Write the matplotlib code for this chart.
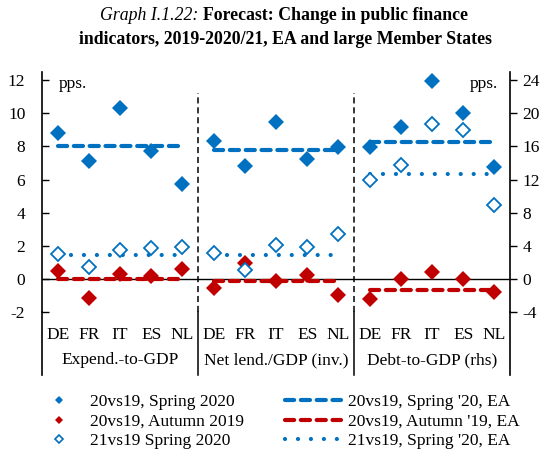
import matplotlib
matplotlib.use("Agg")
import matplotlib.pyplot as plt
from matplotlib.lines import Line2D
from matplotlib.transforms import blended_transform_factory
import numpy as np

plt.rcParams['font.family'] = ['Liberation Serif', 'DejaVu Serif']

countries = ["DE", "FR", "IT", "ES", "NL"]
groups = ["Expend.-to-GDP", "Net lend./GDP (inv.)", "Debt-to-GDP (rhs)"]

# group 1 & 2 on left axis, group 3 on right axis
spring20_20 = [[8.8, 7.15, 10.3, 7.75, 5.75],
               [8.35, 6.85, 9.5, 7.25, 7.95],
               [15.9, 18.4, 23.9, 20.1, 13.5]]
autumn19_20 = [[0.45, -1.15, 0.3, 0.2, 0.6],
               [-0.55, 0.95, -0.1, 0.25, -0.95],
               [-2.4, 0.0, 0.8, 0.0, -1.6]]
spring20_21 = [[1.5, 0.7, 1.75, 1.85, 1.9],
               [1.55, 0.55, 2.05, 1.95, 2.7],
               [12.0, 13.8, 18.7, 18.0, 8.9]]
ea_spring20_20 = [8.0, 7.8, 16.6]
ea_autumn19_20 = [0.0, -0.1, -1.4]
ea_spring20_21 = [1.45, 1.45, 12.7]
left_ticks = [-2, 0, 2, 4, 6, 8, 10, 12]
right_ticks = [-4, 0, 4, 8, 12, 16, 20, 24]

blue = "#0070C0"
red = "#C00000"

fig = plt.figure(figsize=(5.4, 4.54), dpi=100)
W, H = 540, 454
ax_l, ax_r, ax_t, ax_b = 42, 510, 72, 312
ax = fig.add_axes([ax_l / W, 1 - ax_b / H, (ax_r - ax_l) / W, (ax_b - ax_t) / H])
ax2 = ax.twinx()
ax.set_xlim(-0.5, 14.5)
ax.set_ylim(-2, 12.5)
ax2.set_ylim(-4, 25)

ms = 8.5
dash = (2.2, 1.6)
dot = (0.01, 3.1)
for g in range(3):
    a = ax if g < 2 else ax2
    xs = np.arange(5) + 5 * g
    a.plot(xs, spring20_20[g], 'D', color=blue, ms=ms, mew=0, zorder=5)
    a.plot(xs, autumn19_20[g], 'D', color=red, ms=ms, mew=0, zorder=5)
    a.plot(xs, spring20_21[g], 'D', mfc='white', mec=blue, ms=ms - 1, mew=1.3, zorder=6)
    xl = [xs[0], xs[-1]]
    a.plot(xl, [ea_spring20_20[g]] * 2, color=blue, lw=3, dashes=dash,
           dash_capstyle='round', zorder=4)
    a.plot(xl, [ea_autumn19_20[g]] * 2, color=red, lw=3, dashes=dash,
           dash_capstyle='round', zorder=4)
    a.plot(xl, [ea_spring20_21[g]] * 2, color=blue, lw=3, dashes=dot,
           dash_capstyle='round', zorder=4)

ax.axhline(0, color='black', lw=1, zorder=3)

for s in ['top', 'bottom', 'right']:
    ax.spines[s].set_visible(False)
for s in ['top', 'bottom', 'left']:
    ax2.spines[s].set_visible(False)
ax.spines['left'].set_linewidth(1.2)
ax2.spines['right'].set_linewidth(1.2)

ax.set_yticks(left_ticks)
ax.set_yticklabels([str(v) for v in left_ticks])
ax2.set_yticks(right_ticks)
ax2.set_yticklabels([str(v) for v in right_ticks])
ax.tick_params(axis='y', direction='in', length=5, width=1, pad=12, labelsize=12.5)
ax2.tick_params(axis='y', direction='out', length=5, width=1, pad=4, labelsize=12.5)

ax.set_xticks(range(15))
ax.set_xticklabels(countries * 3, fontsize=12.5)
ax.tick_params(axis='x', length=0, pad=11)

trans = blended_transform_factory(ax.transData, ax.transAxes)
for g, name in enumerate(groups):
    ax.text(2 + 5 * g, -0.2, name, transform=trans, ha='center', va='center', fontsize=12.5)

ext = -(375 - 312) / (312 - 72)
top_sep = (312 - 93) / (312 - 72)
for xv in [4.5, 9.5]:
    ax.add_line(Line2D([xv, xv], [0, top_sep], transform=trans, color='black',
                       lw=1.1, dashes=(4, 2.5)))
    ax.add_line(Line2D([xv, xv], [ext, 0], transform=trans, color='black',
                       lw=1.1, clip_on=False))
for xv in [-0.5, 14.5]:
    ax.add_line(Line2D([xv, xv], [ext, 0], transform=trans, color='black',
                       lw=1.2, clip_on=False))

ax.text(0.035, 0.985, "pps.", transform=ax.transAxes, ha='left', va='top', fontsize=12.5)
ax2.text(0.975, 0.985, "pps.", transform=ax.transAxes, ha='right', va='top', fontsize=12.5)

# title
fig.canvas.draw()
r = fig.canvas.get_renderer()
tfs = 12.8
t1a = fig.text(0, 1 - 16 / H, "Graph I.1.22: ", style='italic', fontsize=tfs, va='center')
t1b = fig.text(0, 1 - 16 / H, "Forecast: Change in public finance", weight='bold',
               fontsize=tfs, va='center')
wa = t1a.get_window_extent(r).width
wb = t1b.get_window_extent(r).width
x0 = 284 - (wa + wb) / 2
t1a.set_x(x0 / W)
t1b.set_x((x0 + wa) / W)
fig.text(285 / W, 1 - 40 / H, "indicators, 2019-2020/21, EA and large Member States",
         weight='bold', fontsize=tfs, ha='center', va='center')

# legend
h1 = [Line2D([], [], ls='none', marker='D', color=blue, ms=4, mew=0),
      Line2D([], [], ls='none', marker='D', color=red, ms=4, mew=0),
      Line2D([], [], ls='none', marker='D', mfc='white', mec=blue, ms=4, mew=1.2)]
l1 = ["20vs19, Spring 2020", "20vs19, Autumn 2019", "21vs19 Spring 2020"]
h2 = [Line2D([], [], color=blue, lw=3, dashes=dash, dash_capstyle='round'),
      Line2D([], [], color=red, lw=3, dashes=dash, dash_capstyle='round'),
      Line2D([], [], color=blue, lw=3, dashes=dot, dash_capstyle='round')]
l2 = ["20vs19, Spring '20, EA", "20vs19, Autumn '19, EA", "21vs19, Spring '20, EA"]
leg1 = fig.legend(h1, l1, loc='upper left', bbox_to_anchor=(40 / W, 1 - 394 / H),
                  frameon=False, fontsize=12.5, handlelength=2.2, handletextpad=0.7,
                  labelspacing=0.2, borderaxespad=0, borderpad=0)
leg2 = fig.legend(h2, l2, loc='upper left', bbox_to_anchor=(285 / W, 1 - 394 / H),
                  frameon=False, fontsize=12.5, handlelength=3.2, handletextpad=0.4,
                  labelspacing=0.2, borderaxespad=0, borderpad=0)

fig.savefig("out.png", dpi=100)
